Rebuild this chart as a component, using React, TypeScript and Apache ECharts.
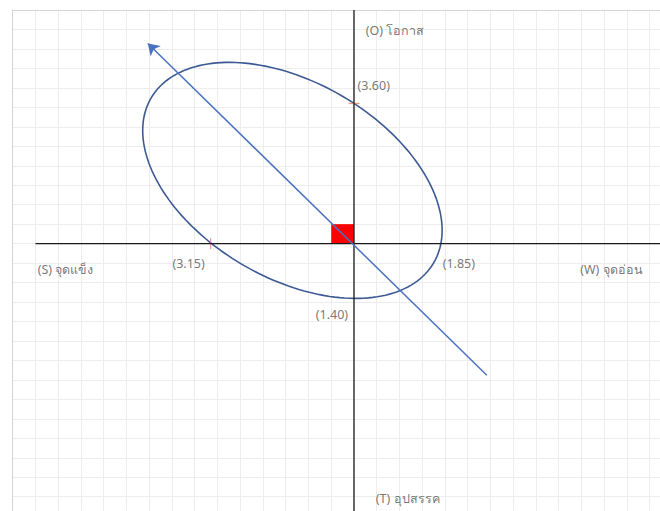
import React, { useEffect, useRef } from "react";
import * as echarts from "echarts";

// Axis extents (data units)
const X_RANGE = [-7.5, 7];
const Y_RANGE = [-7, 6];
const GRID_STEP = 0.5;

// Main cross axes
const H_AXIS = [[-7, 0], [7, 0]];
const V_AXIS = [[0, 6], [0, -7]];

// Intercept values: S (left), W (right), O (up), T (down)
const S_VALUE = 3.15;
const W_VALUE = 1.85;
const O_VALUE = 3.6;
const T_VALUE = 1.4;

// Ellipse: centre x, centre y, semi-major, semi-minor, angle (deg)
const ELLIPSE = [[-1.353, 1.624, 3.781, 2.391, -39.5]];

// Strategy arrow: from -> to (data)
const ARROW_FROM = [2.92, -3.38];
const ARROW_TO = [-4.53, 5.14];

// Red marker square corners
const MARKER = [[-0.5, 0], [0, 0.5]];

// Text labels [x, y, text]
const LABELS: [number, number, string][] = [
  [-6.95, -0.66, "(S) จุดแข็ง"],
  [4.97, -0.66, "(W) จุดอ่อน"],
  [0.26, 5.48, "(O) โอกาส"],
  [0.48, -6.54, "(T) อุปสรรค"],
  [-3.99, -0.5, "(" + S_VALUE.toFixed(2) + ")"],
  [1.95, -0.5, "(" + W_VALUE.toFixed(2) + ")"],
  [0.08, 4.07, "(" + O_VALUE.toFixed(2) + ")"],
  [-0.84, -1.82, "(" + T_VALUE.toFixed(2) + ")"],
];

export default function App() {
  const ref = useRef<HTMLDivElement>(null);
  useEffect(() => {
    if (!ref.current) return;
    const chart = echarts.init(ref.current, null, { renderer: "svg" });
    const font = "'Noto Sans', Tahoma, 'DejaVu Sans', sans-serif";
    chart.setOption({
      animation: false,
      backgroundColor: "#ffffff",
      grid: {
        left: 12.7,
        top: 10,
        width: 659.8,
        height: 506.2,
        outerBoundsMode: "none",
        containLabel: false,
      },
      xAxis: {
        type: "value",
        min: X_RANGE[0],
        max: X_RANGE[1],
        interval: GRID_STEP,
        position: "top",
        axisLine: { show: true, onZero: false, lineStyle: { color: "#d6d6d6", width: 1 } },
        axisTick: { show: false },
        axisLabel: { show: false },
        splitLine: { show: true, lineStyle: { color: "#ededed", width: 1 } },
      },
      yAxis: {
        type: "value",
        min: Y_RANGE[0],
        max: Y_RANGE[1],
        interval: GRID_STEP,
        position: "left",
        axisLine: { show: true, onZero: false, lineStyle: { color: "#d6d6d6", width: 1 } },
        axisTick: { show: false },
        axisLabel: { show: false },
        splitLine: { show: true, lineStyle: { color: "#ededed", width: 1 } },
      },
      series: [
        {
          type: "line",
          data: H_AXIS,
          symbol: "none",
          lineStyle: { color: "#1a1a1a", width: 1.3 },
          silent: true,
          markArea: {
            silent: true,
            itemStyle: { color: "#ff0000", opacity: 1 },
            data: [[{ coord: MARKER[0] }, { coord: MARKER[1] }]],
          },
        },
        {
          type: "line",
          data: V_AXIS,
          symbol: "none",
          lineStyle: { color: "#1a1a1a", width: 1.3 },
          silent: true,
        },
        {
          type: "scatter",
          data: [[-S_VALUE, 0]],
          symbol: "rect",
          symbolSize: [1.3, 11],
          itemStyle: { color: "#d98aa0" },
          silent: true,
        },
        {
          type: "scatter",
          data: [[0, O_VALUE]],
          symbol: "rect",
          symbolSize: [11, 1.3],
          itemStyle: { color: "#e8825a" },
          silent: true,
        },
        {
          type: "custom",
          data: ELLIPSE,
          encode: { x: 0, y: 1 },
          clip: false,
          silent: true,
          renderItem: (params: any, api: any) => {
            const cx = api.value(0);
            const cy = api.value(1);
            const a = api.value(2);
            const b = api.value(3);
            const ang = (api.value(4) * Math.PI) / 180;
            const pts: number[][] = [];
            const n = 180;
            for (let i = 0; i < n; i++) {
              const t = (2 * Math.PI * i) / n;
              const x = cx + a * Math.cos(t) * Math.cos(ang) - b * Math.sin(t) * Math.sin(ang);
              const y = cy + a * Math.cos(t) * Math.sin(ang) + b * Math.sin(t) * Math.cos(ang);
              pts.push(api.coord([x, y]));
            }
            return {
              type: "polygon",
              shape: { points: pts },
              style: { fill: "none", stroke: "#3d5a94", lineWidth: 1.6 },
            };
          },
        },
        {
          type: "line",
          data: [],
          symbol: "none",
          markLine: {
            silent: true,
            symbol: ["none", "arrow"],
            symbolSize: 11,
            label: { show: false },
            lineStyle: { color: "#4a72c0", width: 1.5, type: "solid" },
            data: [[{ coord: ARROW_FROM }, { coord: ARROW_TO }]],
          },
        },
        {
          type: "scatter",
          data: LABELS.map((l) => ({ value: [l[0], l[1]], name: l[2] })),
          symbolSize: 0,
          silent: true,
          label: {
            show: true,
            position: "right",
            distance: 0,
            formatter: (p: any) => p.name,
            color: "#555555",
            fontSize: 12.5,
            fontFamily: font,
          },
        },
      ],
    });
    return () => chart.dispose();
  }, []);
  return (
    <div
      ref={ref}
      style={{ position: "absolute", left: 0, top: 0, width: 660, height: 511 }}
    />
  );
}
